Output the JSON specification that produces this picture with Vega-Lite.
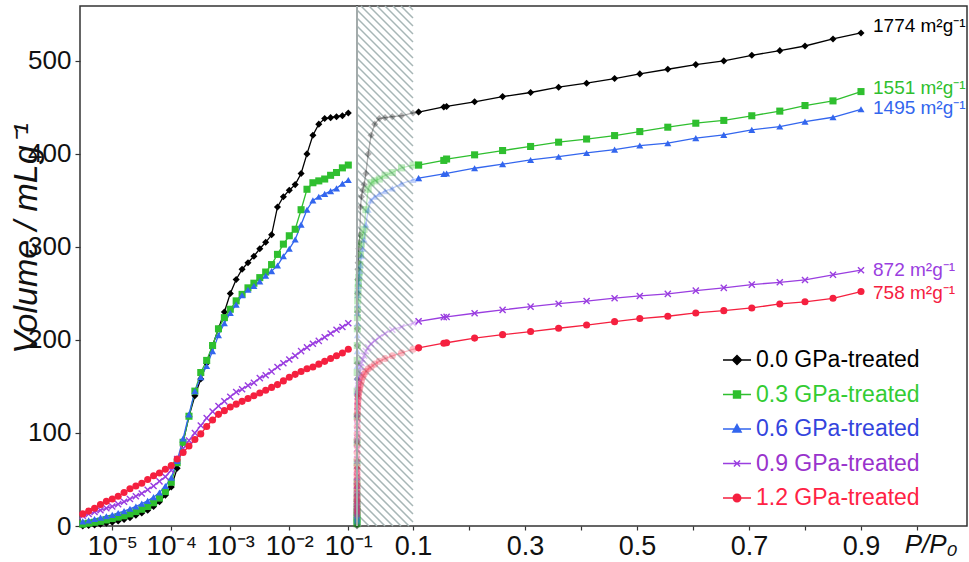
{
"$schema": "https://vega.github.io/schema/vega-lite/v6.json",
"background": "#ffffff",
"padding": {"left": 8, "top": 2, "right": 0, "bottom": 0},
"spacing": 0,
"bounds": "flush",
"resolve": {"scale": {"color": "independent", "shape": "independent"}, "legend": {"color": "independent", "shape": "independent"}},
"config": {
  "view": {"stroke": "#333333", "strokeWidth": 1.5},
  "axis": {"grid": false, "domain": false, "tickColor": "#333333", "tickSize": 4, "tickWidth": 1.2, "labelColor": "#111111", "labelFont": "Liberation Sans Narrow, Liberation Sans, Arial, sans-serif", "labelFontSize": 27, "labelPadding": 3}
},
"datasets": {
"iso": [
{"s":"0.0","P":3.162e-6,"V":0},{"s":"0.0","P":3.981e-6,"V":0.5},{"s":"0.0","P":5.012e-6,"V":1},{"s":"0.0","P":6.31e-6,"V":2},{"s":"0.0","P":7.943e-6,"V":3},
{"s":"0.0","P":1e-5,"V":4},{"s":"0.0","P":1.259e-5,"V":5.5},{"s":"0.0","P":1.585e-5,"V":7},{"s":"0.0","P":1.995e-5,"V":9},{"s":"0.0","P":2.512e-5,"V":11.5},
{"s":"0.0","P":3.162e-5,"V":14},{"s":"0.0","P":3.981e-5,"V":17},{"s":"0.0","P":5.012e-5,"V":21},{"s":"0.0","P":6.31e-5,"V":26},{"s":"0.0","P":7.943e-5,"V":33},
{"s":"0.0","P":1e-4,"V":42},{"s":"0.0","P":1.259e-4,"V":62},{"s":"0.0","P":1.585e-4,"V":90},{"s":"0.0","P":1.995e-4,"V":118},{"s":"0.0","P":2.512e-4,"V":140},
{"s":"0.0","P":3.162e-4,"V":158},{"s":"0.0","P":3.981e-4,"V":175},{"s":"0.0","P":5.012e-4,"V":194},{"s":"0.0","P":6.31e-4,"V":212},{"s":"0.0","P":7.943e-4,"V":230},
{"s":"0.0","P":0.001,"V":250},{"s":"0.0","P":0.001259,"V":265},{"s":"0.0","P":0.001585,"V":276},{"s":"0.0","P":0.001995,"V":283},{"s":"0.0","P":0.002512,"V":290},
{"s":"0.0","P":0.003162,"V":298},{"s":"0.0","P":0.003981,"V":305},{"s":"0.0","P":0.005012,"V":313},{"s":"0.0","P":0.00631,"V":343},{"s":"0.0","P":0.007943,"V":354},
{"s":"0.0","P":0.01,"V":361},{"s":"0.0","P":0.01259,"V":367},{"s":"0.0","P":0.01585,"V":379},{"s":"0.0","P":0.01995,"V":400},{"s":"0.0","P":0.02512,"V":420},
{"s":"0.0","P":0.03162,"V":432},{"s":"0.0","P":0.03981,"V":438},{"s":"0.0","P":0.05012,"V":439},{"s":"0.0","P":0.0631,"V":440},{"s":"0.0","P":0.07943,"V":441},
{"s":"0.0","P":0.1,"V":444},
{"s":"0.0","P":0.11,"V":445},{"s":"0.0","P":0.155,"V":450.5},{"s":"0.0","P":0.16,"V":451},{"s":"0.0","P":0.21,"V":456},{"s":"0.0","P":0.26,"V":461.6},
{"s":"0.0","P":0.31,"V":466},{"s":"0.0","P":0.36,"V":471.7},{"s":"0.0","P":0.41,"V":476},{"s":"0.0","P":0.46,"V":481},{"s":"0.0","P":0.505,"V":486},
{"s":"0.0","P":0.555,"V":491},{"s":"0.0","P":0.605,"V":496},{"s":"0.0","P":0.655,"V":500},{"s":"0.0","P":0.705,"V":506},{"s":"0.0","P":0.755,"V":511},
{"s":"0.0","P":0.8,"V":516},{"s":"0.0","P":0.85,"V":523.6},{"s":"0.0","P":0.9,"V":530},

{"s":"0.3","P":3.162e-6,"V":2},{"s":"0.3","P":3.981e-6,"V":3},{"s":"0.3","P":5.012e-6,"V":4},{"s":"0.3","P":6.31e-6,"V":5},{"s":"0.3","P":7.943e-6,"V":6.5},
{"s":"0.3","P":1e-5,"V":8},{"s":"0.3","P":1.259e-5,"V":9.5},{"s":"0.3","P":1.585e-5,"V":11},{"s":"0.3","P":1.995e-5,"V":13},{"s":"0.3","P":2.512e-5,"V":15.5},
{"s":"0.3","P":3.162e-5,"V":18},{"s":"0.3","P":3.981e-5,"V":21},{"s":"0.3","P":5.012e-5,"V":25},{"s":"0.3","P":6.31e-5,"V":30},{"s":"0.3","P":7.943e-5,"V":37},
{"s":"0.3","P":1e-4,"V":47},{"s":"0.3","P":1.259e-4,"V":68},{"s":"0.3","P":1.585e-4,"V":90},{"s":"0.3","P":1.995e-4,"V":118},{"s":"0.3","P":2.512e-4,"V":145},
{"s":"0.3","P":3.162e-4,"V":165},{"s":"0.3","P":3.981e-4,"V":178},{"s":"0.3","P":5.012e-4,"V":194},{"s":"0.3","P":6.31e-4,"V":212},{"s":"0.3","P":7.943e-4,"V":224},
{"s":"0.3","P":0.001,"V":233},{"s":"0.3","P":0.001259,"V":242},{"s":"0.3","P":0.001585,"V":249},{"s":"0.3","P":0.001995,"V":256},{"s":"0.3","P":0.002512,"V":261},
{"s":"0.3","P":0.003162,"V":267},{"s":"0.3","P":0.003981,"V":273},{"s":"0.3","P":0.005012,"V":281},{"s":"0.3","P":0.00631,"V":292},{"s":"0.3","P":0.007943,"V":303},
{"s":"0.3","P":0.01,"V":312},{"s":"0.3","P":0.01259,"V":319},{"s":"0.3","P":0.01585,"V":340},{"s":"0.3","P":0.01995,"V":362},{"s":"0.3","P":0.02512,"V":369},
{"s":"0.3","P":0.03162,"V":371},{"s":"0.3","P":0.03981,"V":373},{"s":"0.3","P":0.05012,"V":377},{"s":"0.3","P":0.0631,"V":380},{"s":"0.3","P":0.07943,"V":385},
{"s":"0.3","P":0.1,"V":388},
{"s":"0.3","P":0.11,"V":388},{"s":"0.3","P":0.155,"V":393},{"s":"0.3","P":0.16,"V":394.5},{"s":"0.3","P":0.21,"V":399},{"s":"0.3","P":0.26,"V":403.6},
{"s":"0.3","P":0.31,"V":408},{"s":"0.3","P":0.36,"V":412.6},{"s":"0.3","P":0.41,"V":416},{"s":"0.3","P":0.46,"V":419.7},{"s":"0.3","P":0.505,"V":424},
{"s":"0.3","P":0.555,"V":428.7},{"s":"0.3","P":0.605,"V":433},{"s":"0.3","P":0.655,"V":436},{"s":"0.3","P":0.705,"V":441},{"s":"0.3","P":0.755,"V":446},
{"s":"0.3","P":0.8,"V":452},{"s":"0.3","P":0.85,"V":457},{"s":"0.3","P":0.9,"V":467},

{"s":"0.6","P":3.162e-6,"V":5},{"s":"0.6","P":3.981e-6,"V":6},{"s":"0.6","P":5.012e-6,"V":7.5},{"s":"0.6","P":6.31e-6,"V":9},{"s":"0.6","P":7.943e-6,"V":10.5},
{"s":"0.6","P":1e-5,"V":12},{"s":"0.6","P":1.259e-5,"V":14},{"s":"0.6","P":1.585e-5,"V":16},{"s":"0.6","P":1.995e-5,"V":18.5},{"s":"0.6","P":2.512e-5,"V":21},
{"s":"0.6","P":3.162e-5,"V":24},{"s":"0.6","P":3.981e-5,"V":27},{"s":"0.6","P":5.012e-5,"V":31},{"s":"0.6","P":6.31e-5,"V":36},{"s":"0.6","P":7.943e-5,"V":43},
{"s":"0.6","P":1e-4,"V":52},{"s":"0.6","P":1.259e-4,"V":70},{"s":"0.6","P":1.585e-4,"V":94},{"s":"0.6","P":1.995e-4,"V":120},{"s":"0.6","P":2.512e-4,"V":145},
{"s":"0.6","P":3.162e-4,"V":160},{"s":"0.6","P":3.981e-4,"V":172},{"s":"0.6","P":5.012e-4,"V":188},{"s":"0.6","P":6.31e-4,"V":205},{"s":"0.6","P":7.943e-4,"V":218},
{"s":"0.6","P":0.001,"V":229},{"s":"0.6","P":0.001259,"V":238},{"s":"0.6","P":0.001585,"V":248},{"s":"0.6","P":0.001995,"V":254},{"s":"0.6","P":0.002512,"V":258},
{"s":"0.6","P":0.003162,"V":263},{"s":"0.6","P":0.003981,"V":269},{"s":"0.6","P":0.005012,"V":274},{"s":"0.6","P":0.00631,"V":280},{"s":"0.6","P":0.007943,"V":290},
{"s":"0.6","P":0.01,"V":298},{"s":"0.6","P":0.01259,"V":308},{"s":"0.6","P":0.01585,"V":324},{"s":"0.6","P":0.01995,"V":340},{"s":"0.6","P":0.02512,"V":350},
{"s":"0.6","P":0.03162,"V":354},{"s":"0.6","P":0.03981,"V":357},{"s":"0.6","P":0.05012,"V":360},{"s":"0.6","P":0.0631,"V":363},{"s":"0.6","P":0.07943,"V":368},
{"s":"0.6","P":0.1,"V":372},
{"s":"0.6","P":0.11,"V":374},{"s":"0.6","P":0.155,"V":378.5},{"s":"0.6","P":0.16,"V":379},{"s":"0.6","P":0.21,"V":384.6},{"s":"0.6","P":0.26,"V":389},
{"s":"0.6","P":0.31,"V":393.5},{"s":"0.6","P":0.36,"V":397},{"s":"0.6","P":0.41,"V":401},{"s":"0.6","P":0.46,"V":404.6},{"s":"0.6","P":0.505,"V":409},
{"s":"0.6","P":0.555,"V":411.5},{"s":"0.6","P":0.605,"V":417},{"s":"0.6","P":0.655,"V":420.4},{"s":"0.6","P":0.705,"V":425.8},{"s":"0.6","P":0.755,"V":429.4},
{"s":"0.6","P":0.8,"V":434.7},{"s":"0.6","P":0.85,"V":439.4},{"s":"0.6","P":0.9,"V":448},

{"s":"0.9","P":3.162e-6,"V":11},{"s":"0.9","P":3.981e-6,"V":13},{"s":"0.9","P":5.012e-6,"V":15},{"s":"0.9","P":6.31e-6,"V":17},{"s":"0.9","P":7.943e-6,"V":19},
{"s":"0.9","P":1e-5,"V":21},{"s":"0.9","P":1.259e-5,"V":23.5},{"s":"0.9","P":1.585e-5,"V":26},{"s":"0.9","P":1.995e-5,"V":29},{"s":"0.9","P":2.512e-5,"V":32},
{"s":"0.9","P":3.162e-5,"V":35},{"s":"0.9","P":3.981e-5,"V":39},{"s":"0.9","P":5.012e-5,"V":43},{"s":"0.9","P":6.31e-5,"V":48},{"s":"0.9","P":7.943e-5,"V":53},
{"s":"0.9","P":1e-4,"V":60},{"s":"0.9","P":1.259e-4,"V":72},{"s":"0.9","P":1.585e-4,"V":83},{"s":"0.9","P":1.995e-4,"V":92},{"s":"0.9","P":2.512e-4,"V":100},
{"s":"0.9","P":3.162e-4,"V":108},{"s":"0.9","P":3.981e-4,"V":116},{"s":"0.9","P":5.012e-4,"V":123},{"s":"0.9","P":6.31e-4,"V":129},{"s":"0.9","P":7.943e-4,"V":134},
{"s":"0.9","P":0.001,"V":139},{"s":"0.9","P":0.001259,"V":144},{"s":"0.9","P":0.001585,"V":147},{"s":"0.9","P":0.001995,"V":151},{"s":"0.9","P":0.002512,"V":154},
{"s":"0.9","P":0.003162,"V":159},{"s":"0.9","P":0.003981,"V":162},{"s":"0.9","P":0.005012,"V":166},{"s":"0.9","P":0.00631,"V":171},{"s":"0.9","P":0.007943,"V":175},
{"s":"0.9","P":0.01,"V":179},{"s":"0.9","P":0.01259,"V":183},{"s":"0.9","P":0.01585,"V":188},{"s":"0.9","P":0.01995,"V":192},{"s":"0.9","P":0.02512,"V":196},
{"s":"0.9","P":0.03162,"V":199},{"s":"0.9","P":0.03981,"V":203},{"s":"0.9","P":0.05012,"V":207},{"s":"0.9","P":0.0631,"V":211},{"s":"0.9","P":0.07943,"V":214},
{"s":"0.9","P":0.1,"V":218},
{"s":"0.9","P":0.11,"V":220},{"s":"0.9","P":0.155,"V":224.4},{"s":"0.9","P":0.16,"V":224.8},{"s":"0.9","P":0.21,"V":228.7},{"s":"0.9","P":0.26,"V":232.3},
{"s":"0.9","P":0.31,"V":235.8},{"s":"0.9","P":0.36,"V":239},{"s":"0.9","P":0.41,"V":241.8},{"s":"0.9","P":0.46,"V":244.9},{"s":"0.9","P":0.505,"V":247.3},
{"s":"0.9","P":0.555,"V":249.5},{"s":"0.9","P":0.605,"V":253},{"s":"0.9","P":0.655,"V":256},{"s":"0.9","P":0.705,"V":259.5},{"s":"0.9","P":0.755,"V":262},
{"s":"0.9","P":0.8,"V":264.5},{"s":"0.9","P":0.85,"V":270},{"s":"0.9","P":0.9,"V":275},

{"s":"1.2","P":3.162e-6,"V":13},{"s":"1.2","P":3.981e-6,"V":16},{"s":"1.2","P":5.012e-6,"V":19},{"s":"1.2","P":6.31e-6,"V":23},{"s":"1.2","P":7.943e-6,"V":26.5},
{"s":"1.2","P":1e-5,"V":29},{"s":"1.2","P":1.259e-5,"V":32},{"s":"1.2","P":1.585e-5,"V":36},{"s":"1.2","P":1.995e-5,"V":40},{"s":"1.2","P":2.512e-5,"V":43},
{"s":"1.2","P":3.162e-5,"V":46},{"s":"1.2","P":3.981e-5,"V":50},{"s":"1.2","P":5.012e-5,"V":54},{"s":"1.2","P":6.31e-5,"V":57},{"s":"1.2","P":7.943e-5,"V":61},
{"s":"1.2","P":1e-4,"V":65},{"s":"1.2","P":1.259e-4,"V":72},{"s":"1.2","P":1.585e-4,"V":79},{"s":"1.2","P":1.995e-4,"V":86},{"s":"1.2","P":2.512e-4,"V":93},
{"s":"1.2","P":3.162e-4,"V":99},{"s":"1.2","P":3.981e-4,"V":107},{"s":"1.2","P":5.012e-4,"V":114},{"s":"1.2","P":6.31e-4,"V":120},{"s":"1.2","P":7.943e-4,"V":124},
{"s":"1.2","P":0.001,"V":128},{"s":"1.2","P":0.001259,"V":131},{"s":"1.2","P":0.001585,"V":134},{"s":"1.2","P":0.001995,"V":137},{"s":"1.2","P":0.002512,"V":140},
{"s":"1.2","P":0.003162,"V":143},{"s":"1.2","P":0.003981,"V":146},{"s":"1.2","P":0.005012,"V":149},{"s":"1.2","P":0.00631,"V":152},{"s":"1.2","P":0.007943,"V":156},
{"s":"1.2","P":0.01,"V":160},{"s":"1.2","P":0.01259,"V":163},{"s":"1.2","P":0.01585,"V":166},{"s":"1.2","P":0.01995,"V":169},{"s":"1.2","P":0.02512,"V":171},
{"s":"1.2","P":0.03162,"V":174},{"s":"1.2","P":0.03981,"V":177},{"s":"1.2","P":0.05012,"V":180},{"s":"1.2","P":0.0631,"V":183},{"s":"1.2","P":0.07943,"V":186},
{"s":"1.2","P":0.1,"V":190},
{"s":"1.2","P":0.11,"V":191.5},{"s":"1.2","P":0.155,"V":196.5},{"s":"1.2","P":0.16,"V":197},{"s":"1.2","P":0.21,"V":202},{"s":"1.2","P":0.26,"V":205.7},
{"s":"1.2","P":0.31,"V":209},{"s":"1.2","P":0.36,"V":212.6},{"s":"1.2","P":0.41,"V":216},{"s":"1.2","P":0.46,"V":219.7},{"s":"1.2","P":0.505,"V":223},
{"s":"1.2","P":0.555,"V":225.5},{"s":"1.2","P":0.605,"V":229},{"s":"1.2","P":0.655,"V":231.5},{"s":"1.2","P":0.705,"V":234.4},{"s":"1.2","P":0.755,"V":238.7},
{"s":"1.2","P":0.8,"V":241},{"s":"1.2","P":0.85,"V":244.8},{"s":"1.2","P":0.9,"V":252}
],
"ann": [
{"s":"0.0","P":0.9,"V":537,"t":"1774 m²g⁻¹"},
{"s":"0.3","P":0.9,"V":471,"t":"1551 m²g⁻¹"},
{"s":"0.6","P":0.9,"V":449,"t":"1495 m²g⁻¹"},
{"s":"0.9","P":0.9,"V":275,"t":"872 m²g⁻¹"},
{"s":"1.2","P":0.9,"V":250,"t":"758 m²g⁻¹"}
]
},
"hconcat": [
{
 "width": 277, "height": 520,
 "data": {"name": "iso"},
 "transform": [{"filter": "datum.P <= 0.1001"}],
 "encoding": {
  "x": {"field": "P", "type": "quantitative",
        "scale": {"type": "log", "domain": [2.84e-6, 0.1404], "nice": false},
        "axis": {"values": [1e-5, 1e-4, 1e-3, 1e-2, 1e-1], "title": null, "labelFlush": false, "labelOverlap": false,
                 "labelExpr": "datum.value < 5e-5 ? '10⁻⁵' : datum.value < 5e-4 ? '10⁻⁴' : datum.value < 5e-3 ? '10⁻³' : datum.value < 5e-2 ? '10⁻²' : '10⁻¹'"}},
  "y": {"field": "V", "type": "quantitative",
        "scale": {"domain": [0, 559], "nice": false},
        "axis": {"values": [0, 100, 200, 300, 400, 500], "title": "Volume / mLg⁻¹", "titleFont": "Liberation Sans", "titleFontSize": 34, "titleFontStyle": "italic", "titleFontWeight": "normal", "titleColor": "#111111", "titleX": -44, "titleY": 232, "titleAngle": -90, "titleBaseline": "alphabetic", "titleAlign": "center", "labelFontSize": 26, "labelPadding": 4, "tickSize": 5}},
  "color": {"field": "s", "type": "nominal", "scale": {"domain": ["0.0","0.3","0.6","0.9","1.2"], "range": ["#000000","#2fbf2f","#3366ee","#9a3ee0","#f5203f"]}, "legend": null}
 },
 "layer": [
  {"mark": {"type": "line", "strokeWidth": 1.3}},
  {"mark": {"type": "point", "filled": true, "opacity": 1, "size": 50},
   "encoding": {
     "shape": {"field": "s", "type": "nominal", "scale": {"domain": ["1.2","0.9","0.6","0.3","0.0"], "range": ["circle","M-1,-0.72L-0.72,-1L0,-0.28L0.72,-1L1,-0.72L0.28,0L1,0.72L0.72,1L0,0.28L-0.72,1L-1,0.72L-0.28,0Z","triangle-up","square","diamond"]}, "legend": null}
   }}
 ]
},
{
 "width": 610, "height": 520,
 "layer": [
  {"data": {"values": [{}]},
   "mark": {"type": "point", "filled": false, "size": 4, "stroke": "#a7b6b6", "strokeWidth": 1.5, "opacity": 1,
            "shape": "M24-260l4 4m-12-4l12 12m-20-12l20 20m-28-20l28 28m-36-28l36 36m-44-36l44 44m-52-44l52 52m-56-48l56 56m-56-48l56 56m-56-48l56 56m-56-48l56 56m-56-48l56 56m-56-48l56 56m-56-48l56 56m-56-48l56 56m-56-48l56 56m-56-48l56 56m-56-48l56 56m-56-48l56 56m-56-48l56 56m-56-48l56 56m-56-48l56 56m-56-48l56 56m-56-48l56 56m-56-48l56 56m-56-48l56 56m-56-48l56 56m-56-48l56 56m-56-48l56 56m-56-48l56 56m-56-48l56 56m-56-48l56 56m-56-48l56 56m-56-48l56 56m-56-48l56 56m-56-48l56 56m-56-48l56 56m-56-48l56 56m-56-48l56 56m-56-48l56 56m-56-48l56 56m-56-48l56 56m-56-48l56 56m-56-48l56 56m-56-48l56 56m-56-48l56 56m-56-48l56 56m-56-48l56 56m-56-48l56 56m-56-48l56 56m-56-48l56 56m-56-48l56 56m-56-48l56 56m-56-48l56 56m-56-48l56 56m-56-48l56 56m-56-48l56 56m-56-48l56 56m-56-48l56 56m-56-48l56 56m-56-48l56 56m-56-48l56 56m-56-48l56 56m-56-48l56 56m-56-48l56 56m-56-48l52 52m-52-44l44 44m-44-36l36 36m-36-28l28 28m-28-20l20 20m-20-12l12 12m-12-4l4 4"},
   "encoding": {
     "x": {"datum": 0.05, "type": "quantitative", "scale": {"domain": [0, 1.0893], "nice": false, "zero": false}, "title": "P/P₀"},
     "y": {"datum": 279.5, "type": "quantitative", "scale": {"domain": [0, 559], "nice": false}, "axis": null}
   }},
  {"data": {"name": "iso"},
   "transform": [{"filter": "datum.P <= 0.115"}],
   "encoding": {
     "x": {"field": "P", "type": "quantitative", "scale": {"domain": [0, 1.0893], "nice": false, "zero": false}, "title": "P/P₀"},
     "y": {"field": "V", "type": "quantitative", "scale": {"domain": [0, 559], "nice": false}, "axis": null},
     "color": {"field": "s", "type": "nominal", "scale": {"domain": ["0.0","0.3","0.6","0.9","1.2"], "range": ["#000000","#2fbf2f","#3366ee","#9a3ee0","#f5203f"]},
       "legend": {
         "orient": "none", "legendX": 365, "legendY": 339, "padding": 0, "title": null,
         "labelExpr": "datum.label + ' GPa-treated'",
         "labelFont": "Liberation Sans Narrow, Liberation Sans, Arial, sans-serif", "labelFontSize": 23, "labelOffset": 4, "labelLimit": 400,
         "symbolSize": 784, "symbolStrokeWidth": 1.4, "rowPadding": 7.5,
         "encode": {
           "symbols": {"update": {
             "shape": {"signal": "datum.value=='0.0'?'M-1,0H1M0,-0.32L0.32,0L0,0.32L-0.32,0Z':datum.value=='0.3'?'M-1,0H1M-0.25,-0.25H0.25V0.25H-0.25Z':datum.value=='0.6'?'M-1,0H1M0,-0.32L0.3,0.22L-0.3,0.22Z':datum.value=='0.9'?'M-1,0H1M-0.22,-0.22L0.22,0.22M-0.22,0.22L0.22,-0.22':'M-1,0H1M-0.27,0A0.27,0.27,0,1,1,0.27,0A0.27,0.27,0,1,1,-0.27,0Z'"},
             "fill": {"signal": "datum.value=='0.0'?'#000000':datum.value=='0.3'?'#2fbf2f':datum.value=='0.6'?'#3366ee':datum.value=='0.9'?'#9a3ee0':'#f5203f'"},
             "stroke": {"signal": "datum.value=='0.0'?'#000000':datum.value=='0.3'?'#2fbf2f':datum.value=='0.6'?'#3366ee':datum.value=='0.9'?'#9a3ee0':'#f5203f'"},
             "strokeWidth": {"value": 1.4},
             "size": {"value": 784},
             "opacity": {"value": 1}
           }},
           "labels": {"update": {
             "fill": {"signal": "datum.value=='0.0'?'#000000':datum.value=='0.3'?'#33cc33':datum.value=='0.6'?'#3344dd':datum.value=='0.9'?'#9933cc':'#ff2244'"}
           }}
         }
       }}
   },
   "layer": [
     {"mark": {"type": "line", "strokeWidth": 1.3, "opacity": 0.3}},
     {"mark": {"type": "point", "filled": true, "opacity": 0.3, "size": 50},
      "encoding": {
        "shape": {"field": "s", "type": "nominal", "scale": {"domain": ["1.2","0.9","0.6","0.3","0.0"], "range": ["circle","M-1,-0.72L-0.72,-1L0,-0.28L0.72,-1L1,-0.72L0.28,0L1,0.72L0.72,1L0,0.28L-0.72,1L-1,0.72L-0.28,0Z","triangle-up","square","diamond"]}, "legend": null}
      }}
   ]},
  {"data": {"name": "iso"},
   "transform": [{"filter": "datum.P >= 0.105"}],
   "encoding": {
     "x": {"field": "P", "type": "quantitative", "scale": {"domain": [0, 1.0893], "nice": false, "zero": false},
           "axis": {"values": [0.1,0.2,0.3,0.4,0.5,0.6,0.7,0.8,0.9,1.0], "labelExpr": "round(datum.value*10)%2==1 ? format(datum.value,'.1f') : ''", "labelFlush": false, "labelOverlap": false,
                    "title": "P/P₀", "titleFont": "Liberation Sans", "titleFontStyle": "italic", "titleFontWeight": "normal", "titleFontSize": 26, "titleColor": "#111111", "titleX": 600, "titleY": 26, "titleAlign": "right", "titleBaseline": "alphabetic", "titleAnchor": "end"}},
     "y": {"field": "V", "type": "quantitative", "scale": {"domain": [0, 559], "nice": false}, "axis": null},
     "color": {"field": "s", "type": "nominal", "scale": {"domain": ["0.0","0.3","0.6","0.9","1.2"], "range": ["#000000","#2fbf2f","#3366ee","#9a3ee0","#f5203f"]},
       "legend": {
         "orient": "none", "legendX": 365, "legendY": 339, "padding": 0, "title": null,
         "labelExpr": "datum.label + ' GPa-treated'",
         "labelFont": "Liberation Sans Narrow, Liberation Sans, Arial, sans-serif", "labelFontSize": 23, "labelOffset": 4, "labelLimit": 400,
         "symbolSize": 784, "symbolStrokeWidth": 1.4, "rowPadding": 7.5,
         "encode": {
           "symbols": {"update": {
             "shape": {"signal": "datum.value=='0.0'?'M-1,0H1M0,-0.32L0.32,0L0,0.32L-0.32,0Z':datum.value=='0.3'?'M-1,0H1M-0.25,-0.25H0.25V0.25H-0.25Z':datum.value=='0.6'?'M-1,0H1M0,-0.32L0.3,0.22L-0.3,0.22Z':datum.value=='0.9'?'M-1,0H1M-0.22,-0.22L0.22,0.22M-0.22,0.22L0.22,-0.22':'M-1,0H1M-0.27,0A0.27,0.27,0,1,1,0.27,0A0.27,0.27,0,1,1,-0.27,0Z'"},
             "fill": {"signal": "datum.value=='0.0'?'#000000':datum.value=='0.3'?'#2fbf2f':datum.value=='0.6'?'#3366ee':datum.value=='0.9'?'#9a3ee0':'#f5203f'"},
             "stroke": {"signal": "datum.value=='0.0'?'#000000':datum.value=='0.3'?'#2fbf2f':datum.value=='0.6'?'#3366ee':datum.value=='0.9'?'#9a3ee0':'#f5203f'"},
             "strokeWidth": {"value": 1.4},
             "size": {"value": 784},
             "opacity": {"value": 1}
           }},
           "labels": {"update": {
             "fill": {"signal": "datum.value=='0.0'?'#000000':datum.value=='0.3'?'#33cc33':datum.value=='0.6'?'#3344dd':datum.value=='0.9'?'#9933cc':'#ff2244'"}
           }}
         }
       }}
   },
   "layer": [
     {"mark": {"type": "line", "strokeWidth": 1.3}},
     {"mark": {"type": "point", "filled": true, "opacity": 1, "size": 50},
      "encoding": {
        "shape": {"field": "s", "type": "nominal", "scale": {"domain": ["1.2","0.9","0.6","0.3","0.0"], "range": ["circle","M-1,-0.72L-0.72,-1L0,-0.28L0.72,-1L1,-0.72L0.28,0L1,0.72L0.72,1L0,0.28L-0.72,1L-1,0.72L-0.28,0Z","triangle-up","square","diamond"]}, "legend": null}
      }}
   ]},
  {"data": {"name": "ann"},
   "mark": {"type": "text", "align": "left", "baseline": "middle", "dx": 12, "font": "Liberation Sans Narrow, Liberation Sans, Arial, sans-serif", "fontSize": 19},
   "encoding": {
     "x": {"field": "P", "type": "quantitative", "scale": {"domain": [0, 1.0893], "nice": false, "zero": false}, "title": "P/P₀"},
     "y": {"field": "V", "type": "quantitative", "scale": {"domain": [0, 559], "nice": false}, "axis": null},
     "text": {"field": "t"},
     "color": {"field": "s", "type": "nominal", "scale": {"domain": ["0.0","0.3","0.6","0.9","1.2"], "range": ["#000000","#2fbf2f","#3366ee","#9a3ee0","#f5203f"]}}
   }},
  {"data": {"values": [{}]},
   "mark": {"type": "rule", "color": "#a3abab", "strokeWidth": 2},
   "encoding": {
     "x": {"datum": 0, "type": "quantitative", "scale": {"domain": [0, 1.0893], "nice": false, "zero": false}, "title": "P/P₀"}
   }}
 ]
}
]
}
